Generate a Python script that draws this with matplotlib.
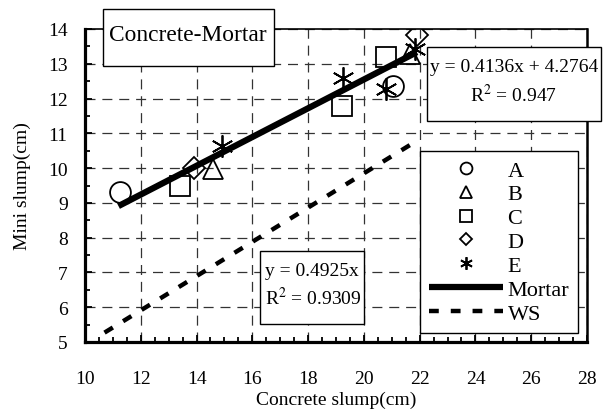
import numpy as np
import matplotlib.pyplot as plt
import matplotlib.patches as mpatches
from matplotlib.ticker import MultipleLocator

plt.rcParams['font.family'] = ['Liberation Serif', 'DejaVu Serif']
plt.rcParams['mathtext.fontset'] = 'stix'

# measured points (concrete slump, mini slump)
A_x = [11.25, 21.05]
A_y = [9.31, 12.36]
B_x = [14.6, 21.65]
B_y = [9.97, 13.28]
C_x = [13.4, 19.2, 20.8]
C_y = [9.48, 11.78, 13.19]
D_x = [13.9, 21.9]
D_y = [10.0, 13.82]
E_x = [14.9, 19.25, 20.8, 21.85]
E_y = [10.63, 12.6, 12.27, 13.42]

# fitted lines
mortar_fit = (0.4136, 4.2764)
mortar_x = [11.2, 21.9]
ws_fit = (0.4925, 0.0)
ws_x = [10.7, 22.0]

W, H = 607, 414
fig = plt.figure(figsize=(6.07, 4.14), dpi=100)
ax = fig.add_axes([85 / W, 1 - 343 / H, 502 / W, 313 / H])

mk = dict(linestyle='none', mfc='none', mec='black', mew=1.3)
ax.plot(A_x, A_y, marker='o', ms=15, label='A', **mk)
ax.plot(B_x, B_y, marker='^', ms=15, label='B', **mk)
ax.plot(C_x, C_y, marker='s', ms=14.5, label='C', **mk)
ax.plot(D_x, D_y, marker='D', ms=11.5, label='D', **mk)
ax.plot(E_x, E_y, marker=(6, 2, 0), ms=16, label='E', **mk)

mx = np.array(mortar_x)
ax.plot(mx, mortar_fit[0] * mx + mortar_fit[1], color='black', lw=4.5,
        solid_capstyle='butt', label='Mortar')
wx = np.array(ws_x)
ax.plot(wx, ws_fit[0] * wx + ws_fit[1], color='black', lw=3.2,
        dashes=(2.2, 2.7), label='WS')

ax.set_xlim(10, 28)
ax.set_ylim(5, 14)
ax.xaxis.set_major_locator(MultipleLocator(2))
ax.xaxis.set_minor_locator(MultipleLocator(0.5))
ax.yaxis.set_major_locator(MultipleLocator(1))
ax.yaxis.set_minor_locator(MultipleLocator(0.5))
ax.tick_params(which='both', direction='in', labelsize=14, width=1.3)
ax.tick_params(which='major', length=5)
ax.tick_params(which='minor', length=3.5)
ax.tick_params(axis='x', pad=20)
ax.tick_params(axis='y', pad=12.5)
ax.grid(True, which='major', color='#333333', lw=0.9, linestyle=(0, (8, 5.5)))
ax.set_axisbelow(True)
for s, w in [('left', 2.3), ('bottom', 2.3), ('top', 1.2), ('right', 1.8)]:
    ax.spines[s].set_linewidth(w)

ax.set_xlabel('Concrete slump(cm)', fontsize=14, labelpad=3)
ax.set_ylabel('Mini slump(cm)', fontsize=14, labelpad=12)

leg = ax.legend(loc='upper left', bbox_to_anchor=(0.667, 0.610), fontsize=16,
                numpoints=1, markerscale=0.57, handlelength=3.35,
                handletextpad=0.2, labelspacing=0.15, borderpad=0.4,
                borderaxespad=0, fancybox=False, edgecolor='black', framealpha=1)
leg.get_frame().set_linewidth(1.0)


def fig_box(x0, y0, x1, y1):
    r = mpatches.Rectangle((x0 / W, 1 - y1 / H), (x1 - x0) / W, (y1 - y0) / H,
                           transform=fig.transFigure, facecolor='white',
                           edgecolor='black', lw=1.0, zorder=5)
    fig.patches.append(r)


def fig_text(x, y, s, size=14, ha='center'):
    fig.text(x / W, 1 - y / H, s, fontsize=size, ha=ha, va='center', zorder=6)


fig_box(103, 10, 274, 67)
fig_text(188, 36, 'Concrete-Mortar', size=16.8)

fig_box(427, 48, 601, 122)
fig_text(514, 68, 'y = 0.4136x + 4.2764')
fig_text(514, 95, 'R$^2$ = 0.947')

fig_box(260, 252, 364, 325)
fig_text(265, 272, 'y = 0.4925x', ha='left')
fig_text(265, 298, 'R$^2$ = 0.9309', ha='left')

fig.savefig('out.png', dpi=100)
